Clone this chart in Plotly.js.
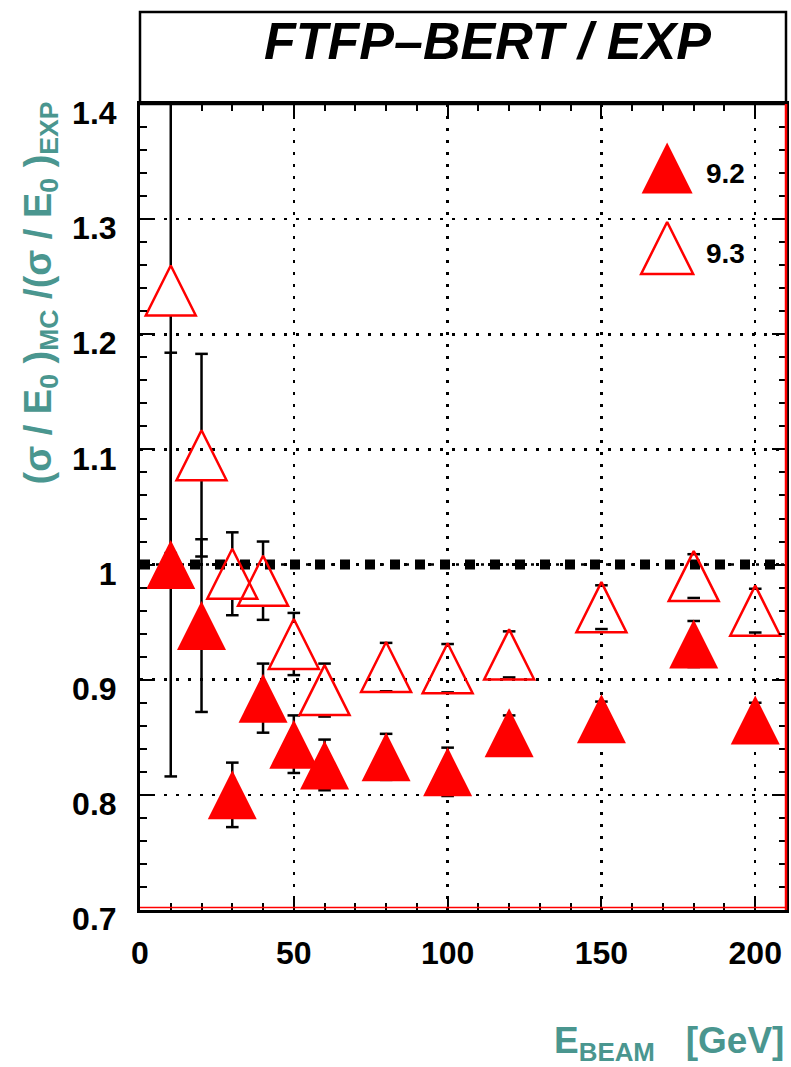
<!DOCTYPE html>
<html>
<head>
<meta charset="utf-8">
<script src="https://cdn.plot.ly/plotly-3.0.1.min.js"></script>
<style>
  html, body { margin: 0; padding: 0; background: #ffffff; }
  #chart { width: 791px; height: 1067px; }
</style>
</head>
<body>
<div id="chart"></div>
<script>
// Beam energies [GeV]
var energy = [10, 20, 30, 40, 50, 60, 80, 100, 120, 150, 180, 200];

// Resolution ratio MC / data, Geant4 9.2 (filled) and 9.3 (open)
var ratio92 = [1.000, 0.947, 0.800, 0.884, 0.844, 0.826, 0.833, 0.820, 0.854, 0.866, 0.931, 0.865];
var err92   = [0.184, 0.075, 0.028, 0.030, 0.025, 0.022, 0.020, 0.021, 0.015, 0.015, 0.020, 0.015];
var ratio93 = [1.238, 1.095, 0.992, 0.986, 0.931, 0.891, 0.911, 0.910, 0.922, 0.963, 0.990, 0.960];
var err93   = [0.228, 0.088, 0.036, 0.034, 0.027, 0.023, 0.021, 0.021, 0.020, 0.019, 0.019, 0.019];

var seriesNames = ['9.2', '9.3'];
var yTickVals = [0.7, 0.8, 0.9, 1.0, 1.1, 1.2, 1.3, 1.4];
var yTickText = ['0.7', '0.8', '0.9', '1', '1.1', '1.2', '1.3', '1.4'];
var xTickVals = [0, 50, 100, 150, 200];
var xTickText = ['0', '50', '100', '150', '200'];
var xMinorStep = 10, yMinorStep = 0.02;
var refLevel = 1.0;

var W = 791, H = 1067;
var M = {l: 140, r: 5, t: 104, b: 157};
var xRange = [0, 210], yRange = [0.7, 1.4];
var plotH = H - M.t - M.b;
var plotW = W - M.l - M.r;
var yPerPx = (yRange[1] - yRange[0]) / plotH;

var RED = '#ff0000';
var TEAL = '#4a968f';
var FONT = 'Liberation Sans, Arial, Helvetica, sans-serif';
var FILLED_SIZE = 49, OPEN_SIZE = 50;

// Error bars: vertical bar split around the marker (gap in px) plus end caps
function errorTraces(x, y, e, gapPx) {
  var g = gapPx * yPerPx;
  var sx = [], sy = [], cx = [], cy = [];
  for (var i = 0; i < x.length; i++) {
    if (e[i] > g) {
      sx.push(x[i], x[i], null, x[i], x[i], null);
      sy.push(y[i] + g, y[i] + e[i], null, y[i] - g, y[i] - e[i], null);
    }
    cx.push(x[i], x[i]);
    cy.push(y[i] + e[i], y[i] - e[i]);
  }
  return [
    {x: sx, y: sy, mode: 'lines', type: 'scatter', showlegend: false, hoverinfo: 'skip',
     line: {color: '#000', width: 2.5}},
    {x: cx, y: cy, mode: 'markers', type: 'scatter', showlegend: false, hoverinfo: 'skip',
     marker: {symbol: 'line-ew', size: 9, color: '#000', opacity: 1, line: {color: '#000', width: 2.5}}}
  ];
}

var data = [];
data = data.concat(errorTraces(energy, ratio92, err92, 0));
data = data.concat(errorTraces(energy, ratio93, err93, OPEN_SIZE / 2));
data.push({
  x: energy, y: ratio92, name: seriesNames[0], type: 'scatter', mode: 'markers', showlegend: false,
  marker: {symbol: 'triangle-up', size: FILLED_SIZE, color: RED, opacity: 1, line: {width: 0}}
});
data.push({
  x: energy, y: ratio93, name: seriesNames[1], type: 'scatter', mode: 'markers', showlegend: false,
  marker: {symbol: 'triangle-up-open', size: OPEN_SIZE, color: RED, opacity: 1, line: {color: RED, width: 2.5}}
});
// Legend keys on an overlay frame (0..1 in both directions)
data.push({
  x: [0.816], y: [0.9206], xaxis: 'x2', yaxis: 'y2', type: 'scatter', mode: 'markers',
  showlegend: false, hoverinfo: 'skip',
  marker: {symbol: 'triangle-up', size: FILLED_SIZE + 2, color: RED, opacity: 1, line: {width: 0}}
});
data.push({
  x: [0.816], y: [0.8213], xaxis: 'x2', yaxis: 'y2', type: 'scatter', mode: 'markers',
  showlegend: false, hoverinfo: 'skip',
  marker: {symbol: 'triangle-up-open', size: OPEN_SIZE + 2, color: RED, opacity: 1, line: {color: RED, width: 2.5}}
});
// Empty trace that carries the minor-tick axes
data.push({x: [], y: [], xaxis: 'x3', yaxis: 'y3', type: 'scatter', mode: 'markers',
           showlegend: false, hoverinfo: 'skip'});

var tickFont = {family: FONT, size: 32, color: '#000', weight: 'bold'};

function minorAxis(range, step, other, over) {
  return {
    range: range, overlaying: over, anchor: other, tickmode: 'linear', tick0: range[0], dtick: step,
    ticks: 'inside', ticklen: 7, tickwidth: 2, tickcolor: '#000', mirror: 'ticks',
    showline: false, showgrid: false, zeroline: false, showticklabels: false, fixedrange: true
  };
}

var layout = {
  width: W, height: H,
  margin: M,
  paper_bgcolor: '#fff', plot_bgcolor: '#fff',
  showlegend: false,
  xaxis: {
    range: xRange, tickmode: 'array', tickvals: xTickVals, ticktext: xTickText,
    ticks: 'inside', ticklen: 14, tickwidth: 2, tickcolor: '#000',
    showline: true, linewidth: 3, linecolor: '#000', mirror: 'ticks',
    showgrid: true, gridcolor: '#000', gridwidth: 2.5, griddash: '2.5px,9.5px',
    zeroline: false, tickfont: tickFont, ticklabelstandoff: 13
  },
  yaxis: {
    range: yRange, tickmode: 'array', tickvals: yTickVals, ticktext: yTickText,
    ticks: 'inside', ticklen: 14, tickwidth: 2, tickcolor: '#000',
    showline: true, linewidth: 3, linecolor: '#000', mirror: 'ticks',
    showgrid: true, gridcolor: '#000', gridwidth: 2.5, griddash: '2.5px,9.5px',
    zeroline: false, tickfont: tickFont, ticklabelstandoff: 14, ticklabelshift: 9
  },
  xaxis2: {range: [0, 1], overlaying: 'x', anchor: 'y2', visible: false, fixedrange: true},
  yaxis2: {range: [0, 1], overlaying: 'y', anchor: 'x2', visible: false, fixedrange: true},
  xaxis3: minorAxis(xRange, xMinorStep, 'y3', 'x'),
  yaxis3: minorAxis(yRange, yMinorStep, 'x3', 'y'),
  shapes: [
    // reference level: heavy dashes with fine dots between them
    {type: 'line', xref: 'paper', x0: 0, x1: 1, yref: 'y', y0: refLevel, y1: refLevel,
     line: {color: '#000', width: 10, dash: '10px,15px'}, layer: 'between'},
    {type: 'line', xref: 'paper', x0: 0, x1: 1, yref: 'y', y0: refLevel, y1: refLevel,
     line: {color: '#000', width: 2.5, dash: '0px,16px,3px,6px'}, layer: 'between'},
    // title frame above the plot
    {type: 'rect', xref: 'paper', yref: 'paper', x0: 0, x1: 1, y0: 1, y1: 1 + 92 / plotH,
     line: {color: '#000', width: 2.5}, fillcolor: 'rgba(0,0,0,0)'},
    // red frame edges (right and bottom)
    {type: 'line', xref: 'paper', yref: 'paper', x0: 1, x1: 1, y0: 0, y1: 1,
     line: {color: RED, width: 2.5}},
    {type: 'line', xref: 'paper', yref: 'paper', x0: 0, x1: 1, y0: 2.5 / plotH, y1: 2.5 / plotH,
     line: {color: RED, width: 1.5}}
  ],
  annotations: [
    {text: 'FTFP\u2013BERT / EXP', xref: 'paper', yref: 'paper', x: 0.538, y: 1 + 63 / plotH,
     xanchor: 'center', yanchor: 'middle', showarrow: false,
     font: {family: FONT, size: 52, color: '#000', weight: 'bold', style: 'italic'}},
    {text: '(\u03c3 / E<sub>0</sub> )<sub>MC</sub> /(\u03c3 / E<sub>0</sub> )<sub>EXP</sub>',
     xref: 'paper', yref: 'paper', x: 0, y: 1, xshift: -100, yshift: 4,
     xanchor: 'center', yanchor: 'top', textangle: -90, showarrow: false,
     font: {family: FONT, size: 38, color: TEAL, weight: 'bold'}},
    {text: 'E<sub>BEAM</sub>\u00a0\u00a0\u00a0[GeV]', xref: 'paper', yref: 'paper', x: 1, y: -108 / plotH,
     xanchor: 'right', yanchor: 'top', showarrow: false,
     font: {family: FONT, size: 37, color: TEAL, weight: 'bold'}},
    {text: seriesNames[0], xref: 'paper', yref: 'paper', x: (704 - M.l) / plotW,
     y: (H - M.b - 173) / plotH, xanchor: 'left', yanchor: 'middle', showarrow: false,
     font: {family: FONT, size: 28, color: '#000', weight: 'bold'}},
    {text: seriesNames[1], xref: 'paper', yref: 'paper', x: (704 - M.l) / plotW,
     y: (H - M.b - 253) / plotH, xanchor: 'left', yanchor: 'middle', showarrow: false,
     font: {family: FONT, size: 28, color: '#000', weight: 'bold'}}
  ]
};

// Triangles drawn as ROOT-style markers: base as wide as the marker is tall,
// centred on the point.
function squareTriangles(gd) {
  var pts = gd.querySelectorAll('.scatterlayer path.point');
  pts.forEach(function (p) {
    var d = p.getAttribute('d') || '';
    var m = d.match(/L0,-([\d.]+)Z$/);
    if (!m) return;
    var h = parseFloat(m[1]);
    p.setAttribute('d', 'M-' + h + ',' + h + 'H' + h + 'L0,-' + h + 'Z');
  });
}

var gd = document.getElementById('chart');
Plotly.newPlot(gd, data, layout, {staticPlot: true, displayModeBar: false}).then(function () {
  squareTriangles(gd);
  gd.on('plotly_afterplot', function () { squareTriangles(gd); });
});
</script>
</body>
</html>
